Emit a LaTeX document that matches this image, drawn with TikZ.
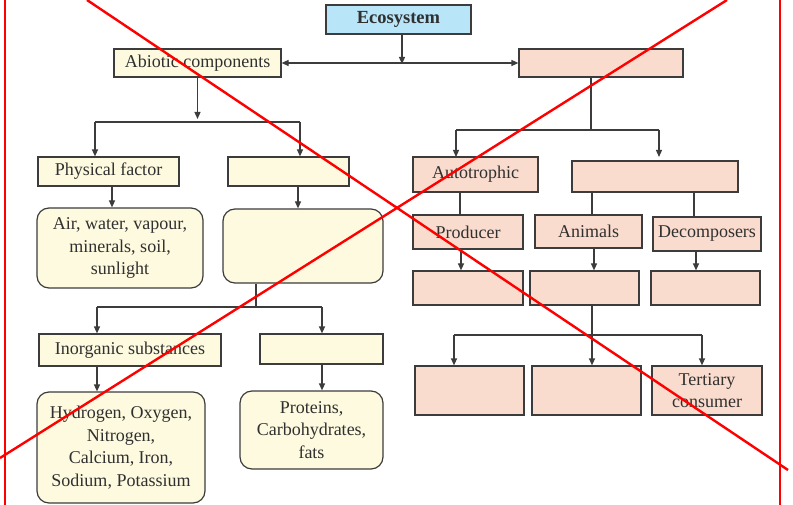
\documentclass[tikz,border=0pt]{standalone}
\usepackage{fontspec}
\setmainfont{Liberation Serif}
\usetikzlibrary{arrows.meta}
\definecolor{yfill}{HTML}{FEFADF}
\definecolor{pfill}{HTML}{FADCCE}
\definecolor{bfill}{HTML}{B8E5F8}
\definecolor{edge}{HTML}{3C3C3C}
\definecolor{txt}{HTML}{303030}
\tikzset{
  base/.style={draw=edge, line width=1.2pt, inner sep=0pt, align=center, text=txt,
    font=\fontsize{18}{22.5}\selectfont},
  ybox/.style={base, fill=yfill},
  yround/.style={base, fill=yfill, rounded corners=12pt},
  pbox/.style={base, fill=pfill},
  bbox/.style={base, fill=bfill, font=\fontsize{18.5}{22.5}\selectfont\bfseries},
  conn/.style={draw=edge, line width=1.2pt},
  arr/.style={conn, -{Triangle[length=7pt,width=6pt]}},
  darr/.style={conn, {Triangle[length=7pt,width=6pt]}-{Triangle[length=7pt,width=6pt]}},
  redline/.style={draw=red, line width=2.4pt},
  wh/.style args={#1x#2}{minimum width=#1pt, minimum height=#2pt}
}
\begin{document}
\begin{tikzpicture}[x=1pt,y=-1pt]
\useasboundingbox (0,0) rectangle (793,505);
% left tree
\node[bbox, wh=145x29] (eco) at (398.5,19.5) {Ecosystem};
\node[ybox, wh=167x28] (abio) at (197.5,63) {Abiotic components};
\node[pbox, wh=164x28] (bio) at (601,63) {};
\node[ybox, wh=141x29] (phys) at (108.5,171.5) {Physical factor};
\node[ybox, wh=121x29] (chem) at (288.5,171.5) {};
\node[yround, wh=166x80] (air) at (120,248) {Air, water, vapour,\\minerals, soil,\\sunlight};
\node[yround, wh=160x74] (chemr) at (303,246) {};
\node[ybox, wh=182x32] (inorg) at (130,350) {Inorganic substances};
\node[ybox, wh=123x30] (org) at (321.5,349) {};
\node[yround, wh=168x111] (hyd) at (121,447.5) {Hydrogen, Oxygen,\\Nitrogen,\\Calcium, Iron,\\Sodium, Potassium};
\node[yround, wh=143x78] (prot) at (311.5,430) {Proteins,\\Carbohydrates,\\fats};
% right tree
\node[pbox, wh=125x35] (auto) at (475.5,174.5) {Autotrophic};
\node[pbox, wh=166x31] (hetero) at (655,176.5) {};
\node[pbox, wh=110x34] (prod) at (468,232) {Producer};
\node[pbox, wh=107x33] (anim) at (588.5,231.5) {Animals};
\node[pbox, wh=108x34] (decomp) at (707,234) {Decomposers};
\node[pbox, wh=110x34] (r1) at (468,288) {};
\node[pbox, wh=109x34] (r2) at (584.5,288) {};
\node[pbox, wh=109x34] (r3) at (705.5,288) {};
\node[pbox, wh=109x49] (b1) at (469.5,390.5) {};
\node[pbox, wh=109x49] (b2) at (586.5,390.5) {};
\node[pbox, wh=110x49] (b3) at (707,390.5) {Tertiary\\consumer};
% connectors top
\coordinate (j0) at (402,64);
\draw[arr] (eco.south -| j0) -- (j0);
\draw[darr] (abio.east) -- (bio.west);
% abiotic branch
\coordinate (a0) at (197.5,119);
\coordinate (a1) at (95,122);
\coordinate (a2) at (300,122);
\draw[arr] (abio.south) -- (a0);
\draw[conn] (a1) -- (a2);
\draw[arr] (a1) -- (a1 |- phys.north);
\draw[arr] (a2) -- (a2 |- chem.north);
\coordinate (x1) at (112,0);
\coordinate (x2) at (298,0);
\draw[arr] (x1 |- phys.south) -- (x1 |- air.north);
\draw[arr] (x2 |- chem.south) -- (x2 |- chemr.north);
\coordinate (c0) at (256,307);
\coordinate (c1) at (97,307);
\coordinate (c2) at (322,307);
\draw[conn] (c0 |- chemr.south) -- (c0);
\draw[conn] (c1) -- (c2);
\draw[arr] (c1) -- (c1 |- inorg.north);
\draw[arr] (c2) -- (c2 |- org.north);
\draw[arr] (c1 |- inorg.south) -- (c1 |- hyd.north);
\draw[arr] (c2 |- org.south) -- (c2 |- prot.north);
% biotic branch
\coordinate (d0) at (591,130);
\coordinate (d1) at (456,130);
\coordinate (d2) at (659,130);
\draw[conn] (d0 |- bio.south) -- (d0);
\draw[conn] (d1) -- (d2);
\draw[arr] (d1) -- (456,157);
\draw[arr] (d2) -- (659,157);
\coordinate (e1) at (460,0);
\coordinate (e2) at (592,0);
\coordinate (e3) at (694,0);
\draw[conn] (e1 |- auto.south) -- (e1 |- prod.north);
\draw[conn] (e2 |- hetero.south) -- (e2 |- anim.north);
\draw[conn] (e3 |- hetero.south) -- (e3 |- decomp.north);
\coordinate (f1) at (461,0);
\coordinate (f2) at (594,0);
\coordinate (f3) at (696,0);
\draw[arr] (f1 |- prod.south) -- (f1 |- r1.north);
\draw[arr] (f2 |- anim.south) -- (f2 |- r2.north);
\draw[arr] (f3 |- decomp.south) -- (f3 |- r3.north);
\coordinate (g0) at (592,335);
\coordinate (g1) at (454,335);
\coordinate (g2) at (702,335);
\draw[conn] (g0 |- r2.south) -- (g0);
\draw[conn] (g1) -- (g2);
\draw[arr] (g1) -- (g1 |- b1.north);
\draw[arr] (g0) -- (g0 |- b2.north);
\draw[arr] (g2) -- (g2 |- b3.north);
% red overlay
\draw[redline, line width=2pt] (5,0) -- (5,505);
\draw[redline, line width=2pt] (780,0) -- (780,505);
\draw[redline] (87,0) -- (788,470);
\draw[redline] (0,458) -- (727,0);
\end{tikzpicture}
\end{document}
